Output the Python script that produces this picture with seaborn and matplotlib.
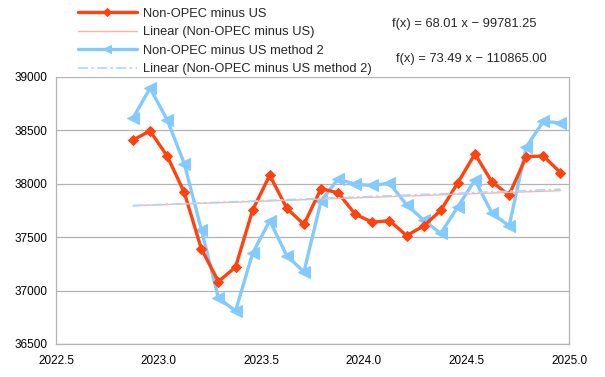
import numpy as np
import pandas as pd
import matplotlib
matplotlib.use("Agg")
import matplotlib.pyplot as plt
import seaborn as sns

# monthly points, Nov 2022 .. Dec 2024 (mid-month decimal years)
start_year = 2022.875
n_months = 26
x_years = [start_year + i / 12 for i in range(n_months)]

non_opec_minus_us = [38410, 38495, 38260, 37920, 37390, 37085, 37220, 37755,
                     38080, 37770, 37620, 37955, 37915, 37715, 37640, 37655,
                     37515, 37605, 37750, 38010, 38280, 38015, 37895, 38255,
                     38260, 38105]
non_opec_minus_us_m2 = [38615, 38895, 38600, 38190, 37570, 36930, 36810, 37350,
                        37655, 37325, 37175, 37840, 38045, 37995, 37985, 38005,
                        37805, 37660, 37535, 37785, 38035, 37725, 37605, 38345,
                        38585, 38570]

# trend line coefficients as printed on the chart
trend1 = (68.01, -99781.25)
trend2 = (73.49, -110865.00)

x_ticks = [2022.5, 2023.0, 2023.5, 2024.0, 2024.5, 2025.0]
y_ticks = [36500, 37000, 37500, 38000, 38500, 39000]

red = "#ff420e"
blue = "#83caff"

sns.set_style("white")
plt.rcParams["font.family"] = ["Liberation Sans", "DejaVu Sans"]
plt.rcParams["font.size"] = 8.5

df = pd.DataFrame({"x": x_years,
                   "s1": non_opec_minus_us,
                   "s2": non_opec_minus_us_m2})
df["t1"] = trend1[0] * df["x"] + trend1[1]
df["t2"] = trend2[0] * df["x"] + trend2[1]

fig = plt.figure(figsize=(6.05, 3.77), dpi=100)
ax = fig.add_axes([56 / 605, 1 - 344 / 377, (569 - 56) / 605, (344 - 77) / 377])

sns.lineplot(data=df, x="x", y="s2", ax=ax, color=blue, lw=2.4,
             marker="<", markersize=8, markeredgecolor=blue,
             label="Non-OPEC minus US method 2", zorder=3)
sns.lineplot(data=df, x="x", y="s1", ax=ax, color=red, lw=2.4,
             marker="D", markersize=5.5, markeredgecolor=red,
             label="Non-OPEC minus US", zorder=4)
sns.lineplot(data=df, x="x", y="t1", ax=ax, color="#ffb3a0", lw=1.0,
             label="Linear (Non-OPEC minus US)", zorder=5)
sns.lineplot(data=df, x="x", y="t2", ax=ax, color="#a8d8ff", lw=1.2,
             label="Linear (Non-OPEC minus US method 2)", zorder=5)
ax.lines[-1].set_dashes((6, 2, 1.5, 2))

ax.set_xlim(2022.5, 2025.0)
ax.set_ylim(36500, 39000)
ax.set_xticks(x_ticks)
ax.set_xticklabels([f"{v:.1f}" for v in x_ticks])
ax.set_yticks(y_ticks)
ax.set_yticklabels([str(v) for v in y_ticks])
ax.set_xlabel("")
ax.set_ylabel("")
ax.grid(axis="y", color="#b3b3b3", lw=0.9)
ax.grid(axis="x", visible=False)
for s in ax.spines.values():
    s.set_color("#b3b3b3")
    s.set_linewidth(0.9)
ax.spines["top"].set_visible(False)
ax.tick_params(axis="both", length=4, color="#b3b3b3", colors="black",
               labelsize=8.5, pad=2)
ax.tick_params(axis="x", pad=4)

handles, labels = ax.get_legend_handles_labels()
order = [1, 2, 0, 3]
ax.get_legend().remove()
leg = fig.legend([handles[i] for i in order], [labels[i] for i in order],
                 loc="upper left", bbox_to_anchor=(70 / 605, 1),
                 frameon=False, fontsize=9.3, handlelength=4.6,
                 labelspacing=0.5, handletextpad=0.45, markerscale=0.7,
                 borderaxespad=0.2)

fig.text(392 / 605, 1 - 24 / 377, "f(x) = 68.01 x \u2212 99781.25",
         ha="left", va="center", fontsize=9.3)
fig.text(396 / 605, 1 - 59 / 377, "f(x) = 73.49 x \u2212 110865.00",
         ha="left", va="center", fontsize=9.3)

fig.savefig("out.png", dpi=100)
